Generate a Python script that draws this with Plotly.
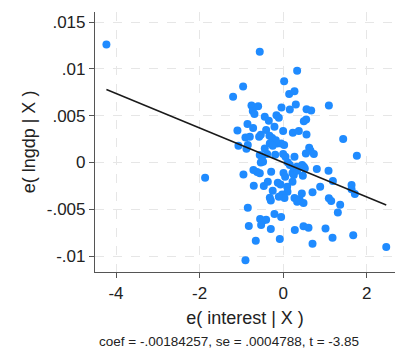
import plotly.graph_objects as go
import numpy as np

x_vals = [-4.23, -0.56, 0.335, 0.024, -0.958, -1.198, 0.144, 0.271, -0.758, -0.599,
          -0.727, -0.687, -0.04, 0.16, 0.303, 0.56, 0.671, 1.094, -0.44, -0.343,
          -0.16, -0.104, 0.495, 0.551, -0.854, -0.719, -1.094, -0.208, -0.407, 0.0,
          0.232, 0.375, 0.559, -0.902, -0.798, -0.575, -0.535, -0.327, -0.263, 1.437,
          -0.144, -0.048, -0.176, 0.024, -1.07, -0.878, -0.846, -0.44, -0.32, -0.25,
          0.623, 0.655, 0.543, -0.56, -0.503, -0.383, -0.19, 0.0, 0.056, 0.271,
          0.735, 1.764, -0.535, -0.48, 0.112, 0.16, 0.255, 0.327, 0.455, 0.495,
          0.519, 0.806, 1.086, -1.868, -0.95, -0.711, -0.623, -0.559, -0.287, 0.008,
          0.048, 0.224, 0.255, 0.335, 0.471, -0.703, -0.463, -0.367, -0.128, -0.064,
          0.224, 0.096, 0.104, -0.25, -0.024, 0.032, -0.319, -0.295, -0.104, 0.271,
          0.391, 0.335, 0.487, 0.447, 0.703, 0.886, 1.19, 1.637, 1.716, 1.637,
          1.094, 1.15, 1.365, 1.309, -0.846, -0.208, -0.048, -0.551, -0.487, -0.407,
          -0.527, -0.295, -0.822, 0.279, 0.487, 0.607, 1.014, -0.655, -0.08, 1.182,
          1.677, 0.703, -0.902, 2.467]
y_vals = [0.0126, 0.01182, 0.00979, 0.00868, 0.00811, 0.00701, 0.0073, 0.0076, 0.00609, 0.00601,
          0.0055, 0.00516, 0.00587, 0.00566, 0.00619, 0.00569, 0.00555, 0.00609, 0.00488, 0.00445,
          0.00505, 0.00477, 0.00441, 0.00459, 0.00409, 0.00367, 0.00342, 0.00381, 0.00345, 0.00335,
          0.00317, 0.00335, 0.00299, 0.00267, 0.00274, 0.00274, 0.00295, 0.00285, 0.0026, 0.00249,
          0.00203, 0.00203, 0.00238, 0.00185, 0.00178, 0.00146, 0.00185, 0.00149, 0.00203, 0.00178,
          0.00157, 0.00125, 0.00096, 0.00078, 0.0006, 0.00089, 0.00082, 0.00089, 0.0006, 0.0006,
          0.00089, 0.00071, 0.0, 0.00007, 0.0, -0.00028, -0.00064, -0.00046, -0.00028, -0.00046,
          -0.00064, -0.00071, -0.00089, -0.00164, -0.00128, -0.00082, -0.00103, -0.00117, -0.001, -0.00114,
          -0.00153, -0.00114, -0.00135, -0.00089, -0.00142, -0.00249, -0.00253, -0.00206, -0.00217, -0.00235,
          -0.00206, -0.0026, -0.00313, -0.00302, -0.00342, -0.00381, -0.00377, -0.00406, -0.00367, -0.00381,
          -0.00395, -0.0042, -0.00434, -0.00331, -0.0032, -0.0026, -0.002, -0.00242, -0.00338, -0.00288,
          -0.00384, -0.00413, -0.00452, -0.00534, -0.00484, -0.00552, -0.00584, -0.00605, -0.00623, -0.00612,
          -0.00669, -0.00712, -0.0068, -0.00722, -0.00683, -0.00698, -0.00705, -0.00836, -0.00819, -0.00804,
          -0.00779, -0.00868, -0.01046, -0.00904]

coef = -0.00184257
note_text = "coef = -.00184257, se = .0004788, t = -3.85"
x_tick_vals = [-4, -2, 0, 2]
x_tick_text = ["-4", "-2", "0", "2"]
y_tick_vals = [-0.01, -0.005, 0, 0.005, 0.01, 0.015]
y_tick_text = ["-.01", "-.005", "0", ".005", ".01", ".015"]

xa = np.array(x_vals)
line_x = [xa.min(), xa.max()]
line_y = [coef * v for v in line_x]

fig = go.Figure()
fig.add_trace(go.Scatter(x=x_vals, y=y_vals, mode="markers",
                         marker=dict(size=8, color="#1f8bff", line=dict(width=0)),
                         showlegend=False, hoverinfo="skip"))
fig.add_trace(go.Scatter(x=line_x, y=line_y, mode="lines",
                         line=dict(color="#1a1a1a", width=1.5),
                         showlegend=False, hoverinfo="skip"))

axis_font = dict(family="Liberation Sans, Arial, sans-serif", size=17, color="#222")
fig.update_layout(
    width=396, height=349,
    margin=dict(l=95, r=1, t=12, b=77),
    paper_bgcolor="white", plot_bgcolor="white",
    font=dict(family="Liberation Sans, Arial, sans-serif", color="#222"),
    xaxis=dict(range=[-4.503, 2.677], tickvals=x_tick_vals, ticktext=x_tick_text,
               showgrid=True, gridcolor="#e6e6e6", griddash="dash", gridwidth=1,
               zeroline=False, showline=True, linecolor="#555", linewidth=1.2,
               ticks="outside", ticklen=5, tickcolor="#555", tickfont=axis_font,
               title=dict(text="e( interest | X )", font=dict(size=18, color="#222"), standoff=9)),
    yaxis=dict(range=[-0.01171, 0.01607], tickvals=y_tick_vals, ticktext=y_tick_text,
               showgrid=True, gridcolor="#e6e6e6", griddash="dash", gridwidth=1,
               zeroline=False, showline=True, linecolor="#555", linewidth=1.2,
               ticks="outside", ticklen=5, tickcolor="#555", tickfont=axis_font,
               title=dict(text="e( lngdp | X )", font=dict(size=18, color="#222"), standoff=6)),
)
fig.add_annotation(text=note_text, xref="paper", yref="paper", x=0.005, y=-0.268,
                   xanchor="left", yanchor="middle", showarrow=False,
                   font=dict(size=13.5, color="#222"))
fig.write_html("out.html")
